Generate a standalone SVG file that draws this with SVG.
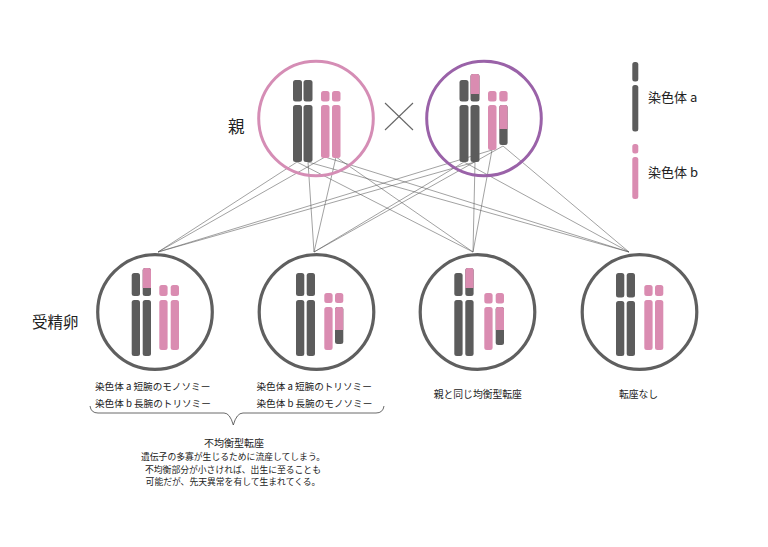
<svg xmlns="http://www.w3.org/2000/svg" width="768" height="547" viewBox="0 0 768 547">
<style>
.d{fill:#5c5c5c}
.p{fill:#da8cb1}
.t{font-family:"Noto Sans CJK JP","Noto Sans",sans-serif;fill:#222}
.c{fill:none;stroke:#5f5f5f;stroke-width:3.2}
.ln{stroke:#555;stroke-width:0.55;fill:none}
</style>
<rect width="768" height="547" fill="#fff"/>

<g id="connectors">
<line class="ln" x1="297" y1="162" x2="158" y2="252"/>
<line class="ln" x1="325" y1="157" x2="158" y2="252"/>
<line class="ln" x1="475" y1="162" x2="158" y2="252"/>
<line class="ln" x1="492" y1="150" x2="158" y2="252"/>
<line class="ln" x1="308" y1="162" x2="314" y2="252"/>
<line class="ln" x1="336" y1="157" x2="314" y2="252"/>
<line class="ln" x1="464" y1="162" x2="314" y2="252"/>
<line class="ln" x1="503" y1="146" x2="314" y2="252"/>
<line class="ln" x1="297" y1="162" x2="473" y2="252"/>
<line class="ln" x1="336" y1="157" x2="473" y2="252"/>
<line class="ln" x1="475" y1="162" x2="473" y2="252"/>
<line class="ln" x1="492" y1="150" x2="473" y2="252"/>
<line class="ln" x1="308" y1="162" x2="629" y2="252"/>
<line class="ln" x1="325" y1="157" x2="629" y2="252"/>
<line class="ln" x1="464" y1="162" x2="629" y2="252"/>
<line class="ln" x1="503" y1="146" x2="629" y2="252"/>
</g>

<g id="label-parent"><text class="t" x="228" y="133" font-size="16.5">親</text></g>
<g id="label-zygote"><text class="t" x="32" y="328" font-size="15.5">受精卵</text></g>

<g id="cross">
<line x1="385" y1="103" x2="413" y2="130" stroke="#666" stroke-width="1.1"/>
<line x1="413" y1="103" x2="385" y2="130" stroke="#666" stroke-width="1.1"/>
</g>

<g id="parent1">
<circle cx="316" cy="118.5" r="57.3" fill="none" stroke="#d58db5" stroke-width="3"/>
<rect class="d" x="293" y="80" width="9" height="21.5" rx="2.5"/>
<rect class="d" x="293" y="105" width="9" height="57" rx="2.5"/>
<rect class="d" x="303.5" y="80" width="9" height="21.5" rx="2.5"/>
<rect class="d" x="303.5" y="105" width="9" height="57" rx="2.5"/>
<rect class="p" x="321" y="91" width="8.5" height="10.5" rx="2.5"/>
<rect class="p" x="321" y="105" width="8.5" height="53" rx="2.5"/>
<rect class="p" x="332" y="91" width="8.5" height="10.5" rx="2.5"/>
<rect class="p" x="332" y="105" width="8.5" height="53" rx="2.5"/>
</g>

<g id="parent2">
<circle cx="484" cy="118.5" r="57.3" fill="none" stroke="#9a62a8" stroke-width="3"/>
<rect class="d" x="459.5" y="80" width="9" height="21.5" rx="2.5"/>
<rect class="d" x="459.5" y="105" width="9" height="57" rx="2.5"/>
<rect class="d" x="470.5" y="74" width="9" height="27.5" rx="2.5"/>
<path class="p" d="M470.5,94 V76.5 Q470.5,74 473,74 H477 Q479.5,74 479.5,76.5 V94 Z"/>
<rect class="d" x="470.5" y="105" width="9" height="57" rx="2.5"/>
<rect class="p" x="488" y="91" width="8.5" height="10.5" rx="2.5"/>
<rect class="p" x="488" y="105" width="8.5" height="45" rx="2.5"/>
<rect class="p" x="499.3" y="91" width="8.3" height="10.5" rx="2.5"/>
<rect class="d" x="499.3" y="105" width="8.3" height="40" rx="2.5"/>
<path class="p" d="M499.3,129 V107.5 Q499.3,105 501.8,105 H505.1 Q507.6,105 507.6,107.5 V129 Z"/>
</g>

<g id="legend-a">
<rect class="d" x="632.3" y="62" width="6" height="19.5" rx="2.5"/>
<rect class="d" x="632.3" y="85" width="6" height="46.5" rx="2.5"/>
<text class="t" x="648" y="102" font-size="13">染色体 a</text>
</g>
<g id="legend-b">
<rect class="p" x="632.3" y="144" width="6" height="9.5" rx="2.5"/>
<rect class="p" x="632.3" y="157" width="6" height="42" rx="2.5"/>
<text class="t" x="648" y="177" font-size="13">染色体 b</text>
</g>

<g id="child1">
<circle class="c" cx="155" cy="312" r="57.3"/>
<rect class="d" x="131.7" y="273" width="8.3" height="23" rx="2.5"/>
<rect class="d" x="131.7" y="300" width="8.3" height="56" rx="2.5"/>
<rect class="d" x="142.7" y="268" width="8.3" height="28" rx="2.5"/>
<path class="p" d="M142.7,288 V270.5 Q142.7,268 145.2,268 H148.5 Q151,268 151,270.5 V288 Z"/>
<rect class="d" x="142.7" y="300" width="8.3" height="56" rx="2.5"/>
<rect class="p" x="159.3" y="285" width="8.3" height="11" rx="2.5"/>
<rect class="p" x="159.3" y="300" width="8.3" height="50" rx="2.5"/>
<rect class="p" x="170.7" y="285" width="8.3" height="11" rx="2.5"/>
<rect class="p" x="170.7" y="300" width="8.3" height="50" rx="2.5"/>
<text class="t" x="95" y="390" font-size="9.6">染色体 a 短腕のモノソミー</text>
<text class="t" x="95" y="406.5" font-size="9.6">染色体 b 長腕のトリソミー</text>
</g>

<g id="child2">
<circle class="c" cx="316.5" cy="312" r="57.3"/>
<rect class="d" x="296" y="273" width="8.3" height="23" rx="2.5"/>
<rect class="d" x="296" y="300" width="8.3" height="56" rx="2.5"/>
<rect class="d" x="306.7" y="273" width="8.3" height="23" rx="2.5"/>
<rect class="d" x="306.7" y="300" width="8.3" height="56" rx="2.5"/>
<rect class="p" x="324.3" y="293" width="8.3" height="10" rx="2.5"/>
<rect class="p" x="324.3" y="307" width="8.3" height="43" rx="2.5"/>
<rect class="p" x="335" y="293" width="8.3" height="10" rx="2.5"/>
<rect class="d" x="335" y="307" width="8.3" height="37" rx="2.5"/>
<path class="p" d="M335,330 V309.5 Q335,307 337.5,307 H340.8 Q343.3,307 343.3,309.5 V330 Z"/>
<text class="t" x="256.5" y="390" font-size="9.6">染色体 a 短腕のトリソミー</text>
<text class="t" x="256.5" y="406.5" font-size="9.6">染色体 b 長腕のモノソミー</text>
</g>

<g id="child3">
<circle class="c" cx="477.5" cy="312" r="57.3"/>
<rect class="d" x="454.3" y="273" width="8.3" height="23" rx="2.5"/>
<rect class="d" x="454.3" y="300" width="8.3" height="56" rx="2.5"/>
<rect class="d" x="465.3" y="268" width="8.3" height="28" rx="2.5"/>
<path class="p" d="M465.3,288 V270.5 Q465.3,268 467.8,268 H471.1 Q473.6,268 473.6,270.5 V288 Z"/>
<rect class="d" x="465.3" y="300" width="8.3" height="56" rx="2.5"/>
<rect class="p" x="484.3" y="293" width="8.3" height="10.5" rx="2.5"/>
<rect class="p" x="484.3" y="307" width="8.3" height="43" rx="2.5"/>
<rect class="p" x="495.7" y="293" width="8.3" height="10.5" rx="2.5"/>
<rect class="d" x="495.7" y="307" width="8.3" height="38" rx="2.5"/>
<path class="p" d="M495.7,330 V309.5 Q495.7,307 498.2,307 H501.5 Q504,307 504,309.5 V330 Z"/>
<text class="t" x="477.8" y="397.5" font-size="9.8" text-anchor="middle">親と同じ均衡型転座</text>
</g>

<g id="child4">
<circle class="c" cx="639.5" cy="312" r="57.3"/>
<rect class="d" x="616" y="273" width="8.3" height="24.5" rx="2.5"/>
<rect class="d" x="616" y="301" width="8.3" height="55" rx="2.5"/>
<rect class="d" x="626.7" y="273" width="8.3" height="24.5" rx="2.5"/>
<rect class="d" x="626.7" y="301" width="8.3" height="55" rx="2.5"/>
<rect class="p" x="644.3" y="285" width="8.3" height="11" rx="2.5"/>
<rect class="p" x="644.3" y="300" width="8.3" height="50" rx="2.5"/>
<rect class="p" x="655" y="285" width="8.3" height="11" rx="2.5"/>
<rect class="p" x="655" y="300" width="8.3" height="50" rx="2.5"/>
<text class="t" x="638.5" y="397.5" font-size="9.8" text-anchor="middle">転座なし</text>
</g>

<g id="unbalanced-note">
<path d="M90,406 Q91,413 98,413 H224 Q230,413 233.3,425 Q236.6,413 243,413 H376 Q383,413 384,406" fill="none" stroke="#444" stroke-width="0.8"/>
<text class="t" x="234" y="446.5" font-size="10" text-anchor="middle">不均衡型転座</text>
<text class="t" x="233" y="460" font-size="8.8" text-anchor="middle">遺伝子の多寡が生じるために流産してしまう。</text>
<text class="t" x="233" y="472.5" font-size="8.8" text-anchor="middle">不均衡部分が小さければ、出生に至ることも</text>
<text class="t" x="233" y="485" font-size="8.8" text-anchor="middle">可能だが、先天異常を有して生まれてくる。</text>
</g>
</svg>
